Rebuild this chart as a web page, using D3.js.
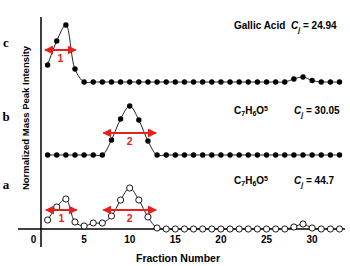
<!DOCTYPE html>
<html>
<head>
<meta charset="utf-8">
<script src="https://cdn.jsdelivr.net/npm/d3@7"></script>
<style>
  body { margin: 0; background: #fff; }
  text { font-family: Arial, "Liberation Sans", sans-serif; font-weight: bold; }
</style>
</head>
<body>
<div id="chart"></div>
<script>
// fractions 1..33
const fractions = d3.range(1, 34);

// normalized peak intensity (relative units), 0 where flat
const seriesA = [9, 22, 30, 7, 3, 6, 6, 13, 29, 41, 29, 12, 1, 0, 0, 0, 0, 0, 0, 0, 0, 0, 0, 0, 0, 0, 0, 2, 5, 1, 0, 0, 0];
const seriesB = [0, 0, 0, 0, 0, 0, 0, 15, 36, 49, 35, 14, 0, 0, 0, 0, 0, 0, 0, 0, 0, 0, 0, 0, 0, 0, 0, 0, 0, 0, 0, 0, 0];
const seriesC = [17, 41, 57, 13, 0, 0, 0, 0, 0, 0, 0, 0, 0, 0, 0, 0, 0, 0, 0, 0, 0, 0, 0, 0, 0, 0, 0, 3, 5, 1.5, 0, 0, 0];

// vertical offsets of the stacked traces
const rowNames = ["a", "b", "c"];
const rowOffsets = [0, 74, 147];
const rowCj = ["44.7", "30.05", "24.94"];

// fraction windows marked by red arrows [row, from, to, label]
const windows = [
  ["c", 0.6, 4.2, "1"],
  ["b", 7, 13, "2"],
  ["a", 0.7, 4.3, "1"],
  ["a", 7, 13, "2"]
];
const xTicks = [0, 5, 10, 15, 20, 25, 30];

const width = 350, height = 266;
const svg = d3.select("#chart").append("svg")
  .attr("width", width).attr("height", height);

const x = d3.scaleLinear().domain([0, 33]).range([38.5, 339.5]);
const y = d3.scaleLinear().domain([0, 212]).range([229, 17]);

const red = "#e8201c";
svg.append("defs").append("marker")
  .attr("id", "ah").attr("viewBox", "0 0 10 10")
  .attr("refX", 9).attr("refY", 5)
  .attr("markerWidth", 4.5).attr("markerHeight", 4.5)
  .attr("orient", "auto-start-reverse")
  .append("path").attr("d", "M0,0L10,5L0,10z").attr("fill", red);

// axes lines
svg.append("line").attr("x1", 41).attr("x2", 41).attr("y1", 17).attr("y2", 247)
  .attr("stroke", "#000").attr("stroke-width", 1.5);
svg.append("line").attr("x1", 18).attr("x2", 345).attr("y1", 229).attr("y2", 229)
  .attr("stroke", "#000").attr("stroke-width", 1.5);

svg.selectAll(".xt").data(xTicks).enter().append("text")
  .attr("x", d => d == 0 ? x(d) - 5 : x(d)).attr("y", 243)
  .attr("text-anchor", "middle").attr("font-size", 10)
  .text(d => d);

svg.append("text").attr("x", 178).attr("y", 262).attr("text-anchor", "middle")
  .attr("font-size", 10.5).text("Fraction Number");

svg.append("text").attr("transform", "translate(29,118) rotate(-90)")
  .attr("text-anchor", "middle").attr("font-size", 9.5)
  .text("Normalized Mass Peak Intensity");

const allSeries = [seriesA, seriesB, seriesC];
const line = d3.line().curve(d3.curveCatmullRom.alpha(0.5))
  .x(d => x(d.f)).y(d => y(d.v));

const letterY = [189, 121, 47];
allSeries.forEach((s, i) => {
  const pts = fractions.map((f, k) => ({f: f, v: s[k] + rowOffsets[i]}));
  svg.append("path").datum(pts).attr("d", line)
    .attr("fill", "none").attr("stroke", "#222").attr("stroke-width", 1);
  svg.selectAll(".p" + i).data(pts).enter().append("circle")
    .attr("cx", d => x(d.f)).attr("cy", d => y(d.v))
    .attr("r", i == 0 ? 3.1 : 2.7)
    .attr("fill", i == 0 ? "#fff" : "#000")
    .attr("stroke", "#000").attr("stroke-width", i == 0 ? 0.9 : 0);

  // row letter
  svg.append("text").attr("x", 6).attr("y", letterY[i])
    .attr("text-anchor", "middle").attr("font-size", 13)
    .style("font-family", "'Liberation Serif', 'Times New Roman', serif")
    .text(rowNames[i]);
});

// window arrows
windows.forEach(w => {
  const i = rowNames.indexOf(w[0]);
  const yy = y(rowOffsets[i]) - [19, 22, 32][i];
  svg.append("line").attr("x1", x(w[1]) + 1).attr("x2", x(w[2]) - 1)
    .attr("y1", yy).attr("y2", yy)
    .attr("stroke", red).attr("stroke-width", 2)
    .attr("marker-start", "url(#ah)").attr("marker-end", "url(#ah)");
  svg.append("text").attr("x", (x(w[1]) + x(w[2])) / 2).attr("y", yy + 12)
    .attr("text-anchor", "middle").attr("font-size", 10.5).attr("fill", red)
    .text(w[3]);
});

// compound labels
const labelY = [184, 114, 29];
rowNames.forEach((r, i) => {
  const t = svg.append("text").attr("x", 234).attr("y", labelY[i]).attr("font-size", 10);
  if (r == "c") {
    t.text("Gallic Acid");
  } else {
    t.append("tspan").text("C");
    t.append("tspan").attr("font-size", 7).attr("dy", 2).text("7");
    t.append("tspan").attr("dy", -2).text("H");
    t.append("tspan").attr("font-size", 7).attr("dy", 2).text("6");
    t.append("tspan").attr("dy", -2).text("O");
    t.append("tspan").attr("font-size", 7).attr("dy", -3).text("5");
  }
  const c = svg.append("text").attr("x", r == "c" ? 291 : 294).attr("y", labelY[i]).attr("font-size", 10);
  c.append("tspan").attr("font-style", "italic").text("C");
  c.append("tspan").attr("font-style", "italic").attr("font-size", 7).attr("dy", 2.5).text("j");
  c.append("tspan").attr("dy", -2.5).text(" = " + rowCj[i]);
});
</script>
</body>
</html>
